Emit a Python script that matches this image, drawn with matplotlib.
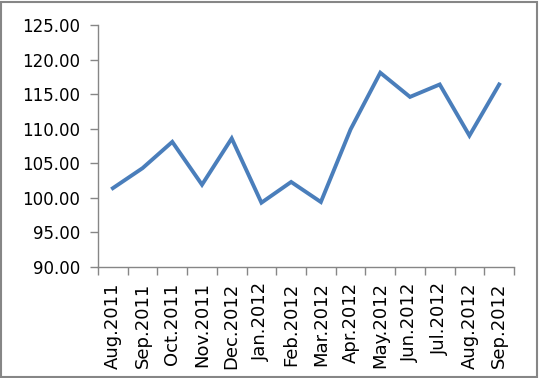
import matplotlib
matplotlib.use("Agg")
import matplotlib.pyplot as plt
from matplotlib.patches import Rectangle

categories = ["Aug.2011", "Sep.2011", "Oct.2011", "Nov.2011", "Dec.2012", "Jan.2012",
              "Feb.2012", "Mar.2012", "Apr.2012", "May.2012", "Jun.2012", "Jul.2012",
              "Aug.2012", "Sep.2012"]
values = [101.4, 104.3, 108.1, 101.9, 108.6, 99.3, 102.3, 99.4, 109.9, 118.1, 114.6, 116.4, 109.0, 116.4]
yticks = [90, 95, 100, 105, 110, 115, 120, 125]

fig = plt.figure(figsize=(5.39, 3.78), dpi=100)
fig.patch.set_facecolor("white")
fig.patches.append(Rectangle((0.002, 0.003), 0.994, 0.993, transform=fig.transFigure,
                             fill=False, edgecolor="#868686", linewidth=1.5))

ax = fig.add_axes([98/539, 1-267/378, (514-98)/539, (267-25)/378])
x = list(range(len(values)))
ax.plot(x, values, color="#4A7EBB", linewidth=2.8, solid_joinstyle="miter")

ax.set_xlim(-0.5, len(values) - 0.5)
ax.set_ylim(90, 125)
ax.set_yticks(yticks)
ax.set_yticklabels([f"{v:.2f}" for v in yticks], fontsize=12)
ax.set_xticks(x)
ax.set_xticklabels(categories, rotation=90, fontsize=13)
ax.set_xticks([i - 0.5 for i in range(len(values) + 1)], minor=True)
ax.tick_params(axis="x", which="major", length=0, pad=11)
ax.tick_params(axis="x", which="minor", length=6, color="#868686", width=1)
ax.tick_params(axis="y", length=6, color="#868686", width=1, pad=7)

for s in ["top", "right"]:
    ax.spines[s].set_visible(False)
for s in ["left", "bottom"]:
    ax.spines[s].set_color("#868686")
    ax.spines[s].set_linewidth(1)

fig.savefig("out.png", dpi=100)
